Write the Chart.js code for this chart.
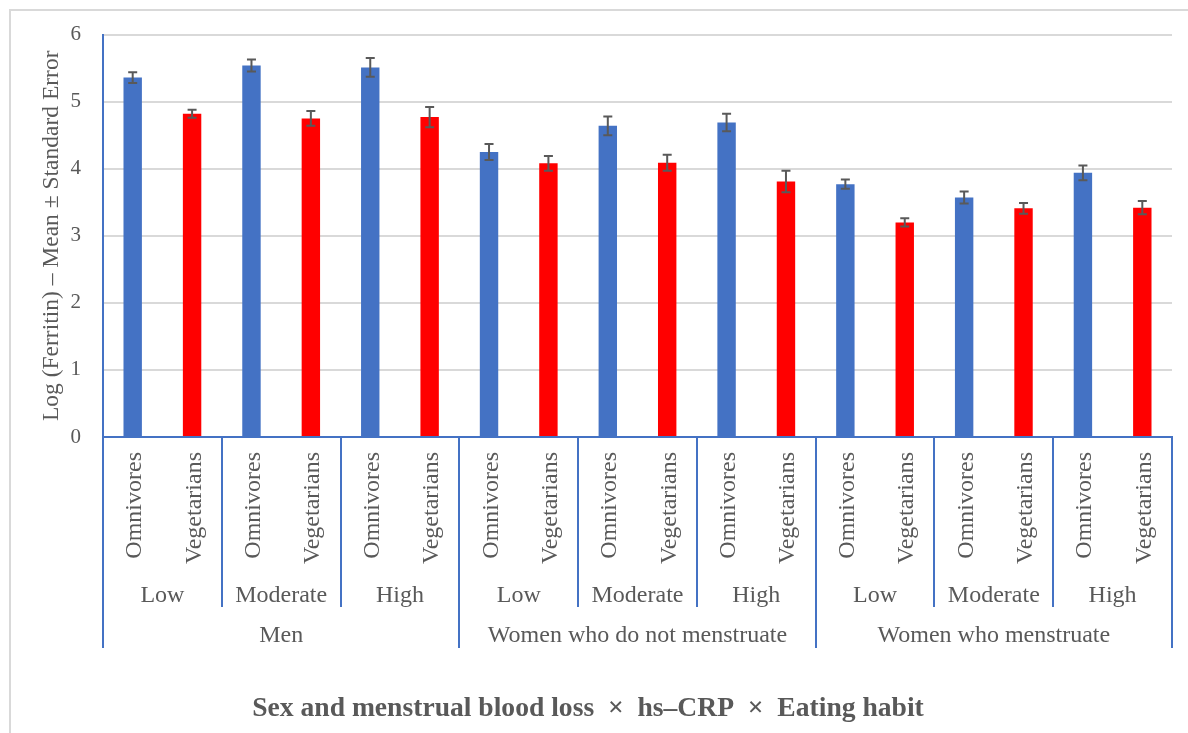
<!DOCTYPE html>
<html>
<head>
<meta charset="utf-8">
<title>Log (Ferritin) by sex, hs-CRP and eating habit</title>
<script src="https://cdn.jsdelivr.net/npm/chart.js@4/dist/chart.umd.min.js"></script>
<style>
  html, body { margin: 0; padding: 0; background: #ffffff; }
  #wrap { position: relative; width: 1188px; height: 733px; }
</style>
</head>
<body>
<div id="wrap"><canvas id="chart"></canvas></div>
<script>
// Grouping levels of the category axis (outermost first)
const sexGroups = ['Men', 'Women who do not menstruate', 'Women who menstruate'];
const crpLevels = ['Low', 'Moderate', 'High'];
const eatingHabits = ['Omnivores', 'Vegetarians'];

// Mean log(ferritin) and standard error, one entry per (sex group, hs-CRP level)
const omnivoreMean   = [5.36, 5.54, 5.51, 4.25, 4.64, 4.69, 3.77, 3.57, 3.94];
const omnivoreSE     = [0.08, 0.09, 0.14, 0.12, 0.14, 0.13, 0.07, 0.09, 0.11];
const vegetarianMean = [4.82, 4.75, 4.77, 4.08, 4.09, 3.81, 3.20, 3.41, 3.42];
const vegetarianSE   = [0.06, 0.11, 0.15, 0.11, 0.12, 0.16, 0.06, 0.08, 0.10];

const yTicks = [0, 1, 2, 3, 4, 5, 6];

const habitColors = { 'Omnivores': '#4472C4', 'Vegetarians': '#FF0000' };
const textColor = '#595959';
const axisBlue = '#4472C4';
const serif = '"Liberation Serif", "Times New Roman", serif';

// Flatten the three levels into one row per bar
const rows = [];
let k = 0;
sexGroups.forEach(sex => {
  crpLevels.forEach(crp => {
    rows.push({ sex, crp, habit: eatingHabits[0], mean: omnivoreMean[k], se: omnivoreSE[k] });
    rows.push({ sex, crp, habit: eatingHabits[1], mean: vegetarianMean[k], se: vegetarianSE[k] });
    k++;
  });
});

// White background plus the light frame along the top and left edges
const framePlugin = {
  id: 'frame',
  beforeDraw(chart) {
    const ctx = chart.ctx;
    ctx.save();
    ctx.fillStyle = '#ffffff';
    ctx.fillRect(0, 0, chart.width, chart.height);
    ctx.strokeStyle = '#d9d9d9';
    ctx.lineWidth = 2;
    ctx.beginPath();
    ctx.moveTo(10, chart.height);
    ctx.lineTo(10, 10);
    ctx.lineTo(chart.width, 10);
    ctx.stroke();
    ctx.restore();
  }
};

// Mean ± SE whiskers on every bar
const errorBarPlugin = {
  id: 'errorBars',
  afterDatasetsDraw(chart) {
    const ctx = chart.ctx;
    const meta = chart.getDatasetMeta(0);
    const ys = chart.scales.y;
    const cap = 4.5;
    ctx.save();
    ctx.strokeStyle = '#595959';
    ctx.lineWidth = 2;
    rows.forEach((r, i) => {
      const x = meta.data[i].x;
      const top = ys.getPixelForValue(r.mean + r.se);
      const bot = ys.getPixelForValue(r.mean - r.se);
      ctx.beginPath();
      ctx.moveTo(x, top); ctx.lineTo(x, bot);
      ctx.moveTo(x - cap, top); ctx.lineTo(x + cap, top);
      ctx.moveTo(x - cap, bot); ctx.lineTo(x + cap, bot);
      ctx.stroke();
    });
    ctx.restore();
  }
};

// Three-level category axis: eating habit, hs-CRP level, sex group, plus the axis title
const multiLevelAxisPlugin = {
  id: 'multiLevelAxis',
  afterDraw(chart) {
    const ctx = chart.ctx;
    const xs = chart.scales.x;
    const area = chart.chartArea;
    const n = rows.length;
    const px = i => xs.getPixelForValue(i);
    const boundary = b => b === 0 ? area.left : (b === n ? area.right : (px(b - 1) + px(b)) / 2);
    const axisY = area.bottom;
    const level1Bottom = 607;
    const level2Bottom = 648;

    ctx.save();
    // separators
    ctx.strokeStyle = axisBlue;
    ctx.lineWidth = 2;
    for (let b = 0; b <= n; b++) {
      let bottom = null;
      if (b === 0 || b === n || rows[b].sex !== rows[b - 1].sex) bottom = level2Bottom;
      else if (rows[b].crp !== rows[b - 1].crp) bottom = level1Bottom;
      if (bottom === null) continue;
      const x = Math.round(boundary(b));
      ctx.beginPath();
      ctx.moveTo(x, axisY);
      ctx.lineTo(x, bottom);
      ctx.stroke();
    }

    ctx.fillStyle = textColor;
    // innermost level: rotated eating-habit labels
    ctx.font = '24px ' + serif;
    ctx.textAlign = 'right';
    ctx.textBaseline = 'alphabetic';
    rows.forEach((r, i) => {
      ctx.save();
      ctx.translate(px(i) + 8.5, 452);
      ctx.rotate(-Math.PI / 2);
      ctx.fillText(r.habit, 0, 0);
      ctx.restore();
    });

    // middle and outer levels: centred under their runs of bars
    ctx.textAlign = 'center';
    const drawRuns = (keyFn, field, baseline) => {
      let start = 0;
      for (let i = 1; i <= n; i++) {
        if (i === n || keyFn(rows[i]) !== keyFn(rows[start])) {
          const cx = (boundary(start) + boundary(i)) / 2;
          ctx.fillText(rows[start][field], cx, baseline);
          start = i;
        }
      }
    };
    drawRuns(r => r.sex + '|' + r.crp, 'crp', 601.5);
    drawRuns(r => r.sex, 'sex', 642);

    // axis title
    ctx.font = 'bold 27.6px ' + serif;
    ctx.fillText('Sex and menstrual blood loss  \u00d7  hs\u2013CRP  \u00d7  Eating habit', 588, 716);
    ctx.restore();
  }
};

new Chart(document.getElementById('chart'), {
  type: 'bar',
  data: {
    labels: rows.map(r => [r.habit, r.crp, r.sex]),
    datasets: [{
      label: 'Log (Ferritin)',
      data: rows.map(r => r.mean),
      backgroundColor: rows.map(r => habitColors[r.habit]),
      borderWidth: 0,
      categoryPercentage: 1,
      barPercentage: 0.31
    }]
  },
  options: {
    responsive: true,
    maintainAspectRatio: false,
    animation: false,
    layout: { padding: { top: 33, right: 16, left: 0, bottom: 0 } },
    plugins: {
      legend: { display: false },
      tooltip: { enabled: false },
      title: { display: false }
    },
    scales: {
      x: {
        grid: { display: false, drawTicks: false },
        border: { display: true, color: axisBlue, width: 2 },
        ticks: { display: false },
        afterFit(scale) { scale.height = 733 - 437; }
      },
      y: {
        min: 0,
        max: 6,
        afterBuildTicks(scale) { scale.ticks = yTicks.map(v => ({ value: v })); },
        grid: { color: '#d9d9d9', lineWidth: 2, drawTicks: false },
        border: { display: true, color: axisBlue, width: 2 },
        ticks: {
          padding: 22,
          color: textColor,
          font: { family: serif, size: 21 }
        },
        title: {
          display: true,
          text: 'Log (Ferritin) \u2013 Mean \u00b1 Standard Error',
          color: textColor,
          font: { family: serif, size: 23.5 },
          padding: { top: 38, bottom: 0 }
        },
        afterFit(scale) { scale.width = 103; }
      }
    }
  },
  plugins: [framePlugin, errorBarPlugin, multiLevelAxisPlugin]
});
</script>
</body>
</html>
